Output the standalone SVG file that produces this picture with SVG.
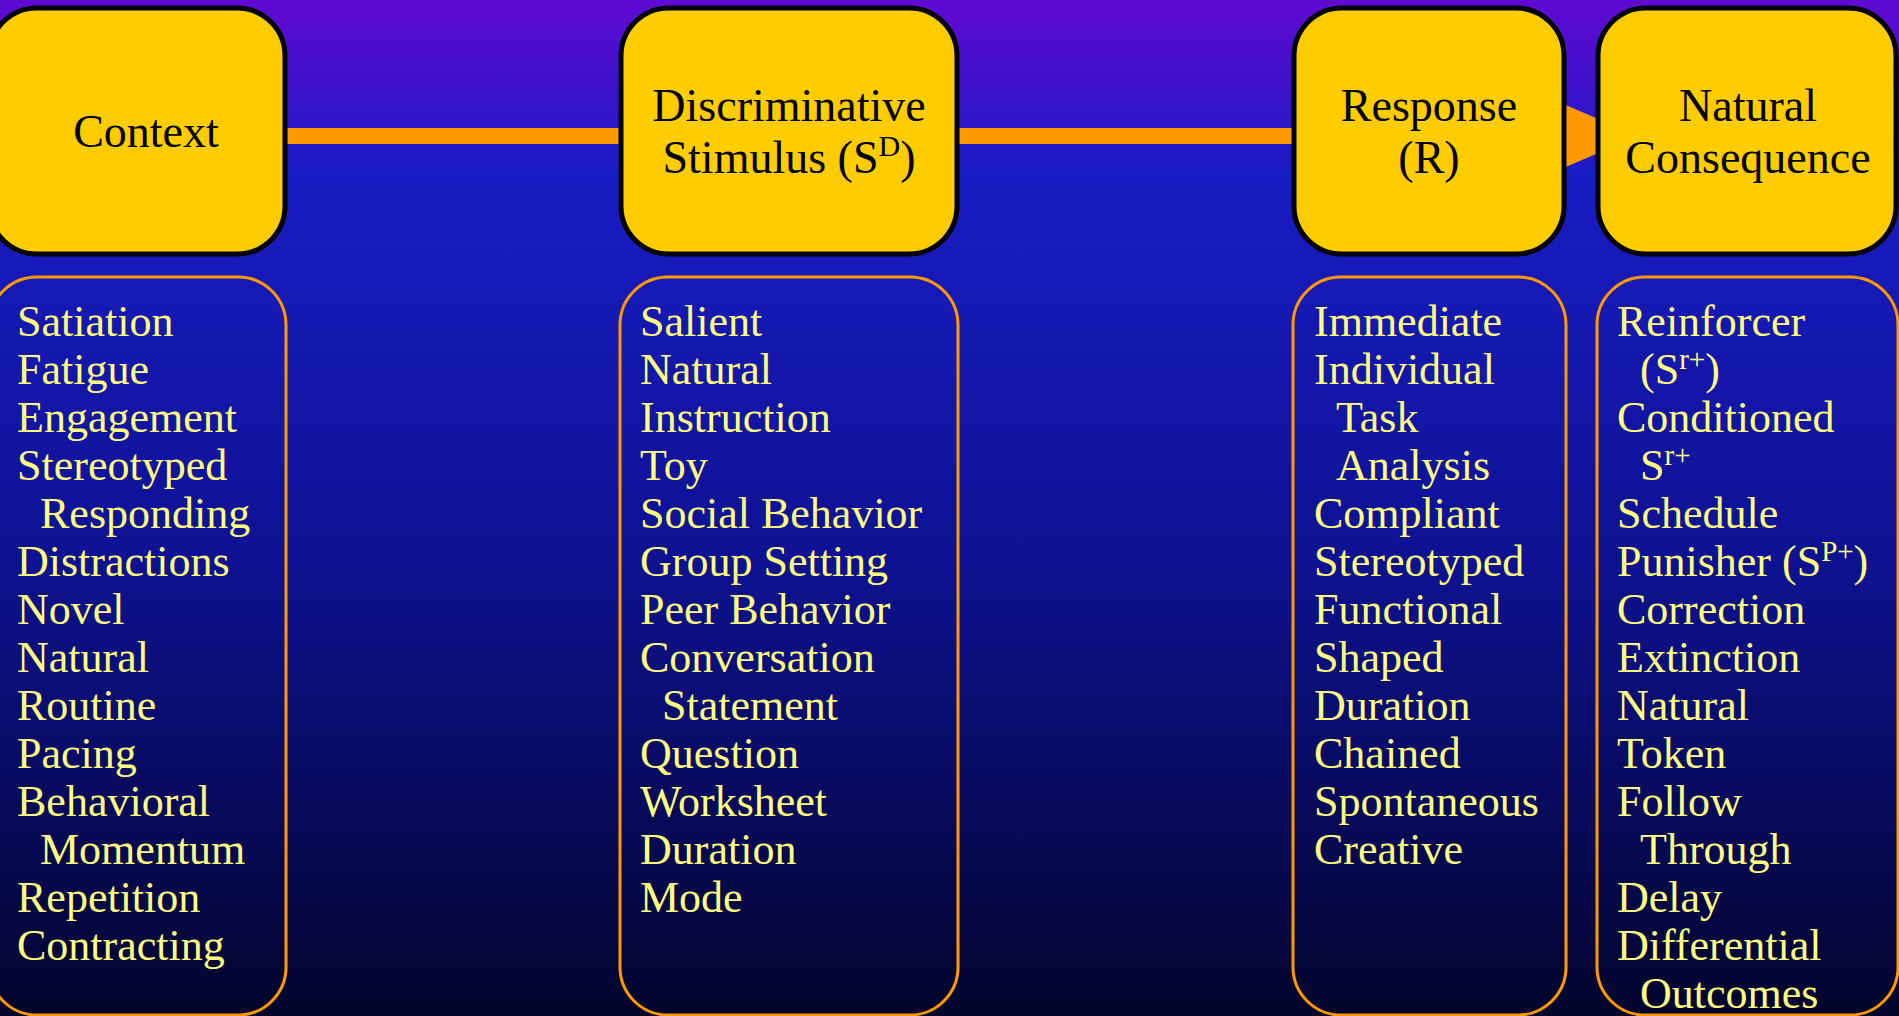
<svg xmlns="http://www.w3.org/2000/svg" width="1899" height="1016" viewBox="0 0 1899 1016">
<defs>
<linearGradient id="bg" x1="0" y1="0" x2="0" y2="1">
<stop offset="0" stop-color="#600ad2"/>
<stop offset="0.17" stop-color="#1a1cc4"/>
<stop offset="0.55" stop-color="#0e1292"/>
<stop offset="1" stop-color="#02042c"/>
</linearGradient>
<marker id="arrow" markerUnits="userSpaceOnUse" markerWidth="98" markerHeight="84" refX="98" refY="42" orient="auto">
<path d="M0,0 L98,42 L0,84 Z" fill="#ff9900"/>
</marker>
<style>
.head{fill:#ffcc00;stroke:#000;stroke-width:5}
.list{fill:none;stroke:#ff9900;stroke-width:3}
.ht{font-family:"Liberation Serif","Times New Roman",serif;font-size:46px;fill:#000;text-anchor:middle}
.lt{font-family:"Liberation Serif","Times New Roman",serif;font-size:44px;fill:#ffff80}
.conn{stroke:#ff9900;stroke-width:16;fill:none}
</style>
</defs>
<rect x="0" y="0" width="1899" height="1016" fill="url(#bg)"/>

<g id="connectors">
<line class="conn" x1="143" y1="136" x2="789" y2="136"/>
<line class="conn" x1="789" y1="136" x2="1429" y2="136"/>
<line class="conn" x1="1429" y1="136" x2="1638" y2="136" marker-end="url(#arrow)"/>
</g>

<g id="context">
<rect class="head" x="-11" y="8" width="296" height="246" rx="48" ry="48"/>
<text class="ht" x="146" y="147">Context</text>
</g>
<g id="sd">
<rect class="head" x="621" y="8" width="336" height="246" rx="48" ry="48"/>
<text class="ht" x="789" y="121">Discriminative</text>
<text class="ht" x="789" y="173">Stimulus (S<tspan font-size="30" dy="-17">D</tspan><tspan dy="17">)</tspan></text>
</g>
<g id="response">
<rect class="head" x="1294" y="8" width="270" height="246" rx="48" ry="48"/>
<text class="ht" x="1429" y="121">Response</text>
<text class="ht" x="1429" y="173">(R)</text>
</g>
<g id="consequence">
<rect class="head" x="1598" y="8" width="298" height="246" rx="48" ry="48"/>
<text class="ht" x="1748" y="121">Natural</text>
<text class="ht" x="1748" y="173">Consequence</text>
</g>

<g id="context-list">
<rect class="list" x="-11" y="277" width="297" height="738" rx="48" ry="48"/>
<text class="lt">
<tspan x="17" y="336">Satiation</tspan>
<tspan x="17" y="384">Fatigue</tspan>
<tspan x="17" y="432">Engagement</tspan>
<tspan x="17" y="480">Stereotyped</tspan>
<tspan x="40" y="528">Responding</tspan>
<tspan x="17" y="576">Distractions</tspan>
<tspan x="17" y="624">Novel</tspan>
<tspan x="17" y="672">Natural</tspan>
<tspan x="17" y="720">Routine</tspan>
<tspan x="17" y="768">Pacing</tspan>
<tspan x="17" y="816">Behavioral</tspan>
<tspan x="40" y="864">Momentum</tspan>
<tspan x="17" y="912">Repetition</tspan>
<tspan x="17" y="960">Contracting</tspan>
</text>
</g>

<g id="sd-list">
<rect class="list" x="620" y="277" width="338" height="738" rx="48" ry="48"/>
<text class="lt">
<tspan x="640" y="336">Salient</tspan>
<tspan x="640" y="384">Natural</tspan>
<tspan x="640" y="432">Instruction</tspan>
<tspan x="640" y="480">Toy</tspan>
<tspan x="640" y="528">Social Behavior</tspan>
<tspan x="640" y="576">Group Setting</tspan>
<tspan x="640" y="624">Peer Behavior</tspan>
<tspan x="640" y="672">Conversation</tspan>
<tspan x="662" y="720">Statement</tspan>
<tspan x="640" y="768">Question</tspan>
<tspan x="640" y="816">Worksheet</tspan>
<tspan x="640" y="864">Duration</tspan>
<tspan x="640" y="912">Mode</tspan>
</text>
</g>

<g id="response-list">
<rect class="list" x="1293" y="277" width="273" height="738" rx="48" ry="48"/>
<text class="lt">
<tspan x="1314" y="336">Immediate</tspan>
<tspan x="1314" y="384">Individual</tspan>
<tspan x="1336" y="432">Task</tspan>
<tspan x="1336" y="480">Analysis</tspan>
<tspan x="1314" y="528">Compliant</tspan>
<tspan x="1314" y="576">Stereotyped</tspan>
<tspan x="1314" y="624">Functional</tspan>
<tspan x="1314" y="672">Shaped</tspan>
<tspan x="1314" y="720">Duration</tspan>
<tspan x="1314" y="768">Chained</tspan>
<tspan x="1314" y="816">Spontaneous</tspan>
<tspan x="1314" y="864">Creative</tspan>
</text>
</g>

<g id="consequence-list">
<rect class="list" x="1597" y="277" width="301" height="738" rx="48" ry="48"/>
<text class="lt" x="1617" y="336">Reinforcer</text>
<text class="lt" x="1640" y="384">(S<tspan font-size="29" dy="-15">r+</tspan><tspan dy="15">)</tspan></text>
<text class="lt" x="1617" y="432">Conditioned</text>
<text class="lt" x="1640" y="480">S<tspan font-size="29" dy="-15">r+</tspan></text>
<text class="lt" x="1617" y="528">Schedule</text>
<text class="lt" x="1617" y="576">Punisher (S<tspan font-size="29" dy="-15">P+</tspan><tspan dy="15">)</tspan></text>
<text class="lt" x="1617" y="624">Correction</text>
<text class="lt" x="1617" y="672">Extinction</text>
<text class="lt" x="1617" y="720">Natural</text>
<text class="lt" x="1617" y="768">Token</text>
<text class="lt" x="1617" y="816">Follow</text>
<text class="lt" x="1640" y="864">Through</text>
<text class="lt" x="1617" y="912">Delay</text>
<text class="lt" x="1617" y="960">Differential</text>
<text class="lt" x="1640" y="1008">Outcomes</text>
</g>
</svg>
